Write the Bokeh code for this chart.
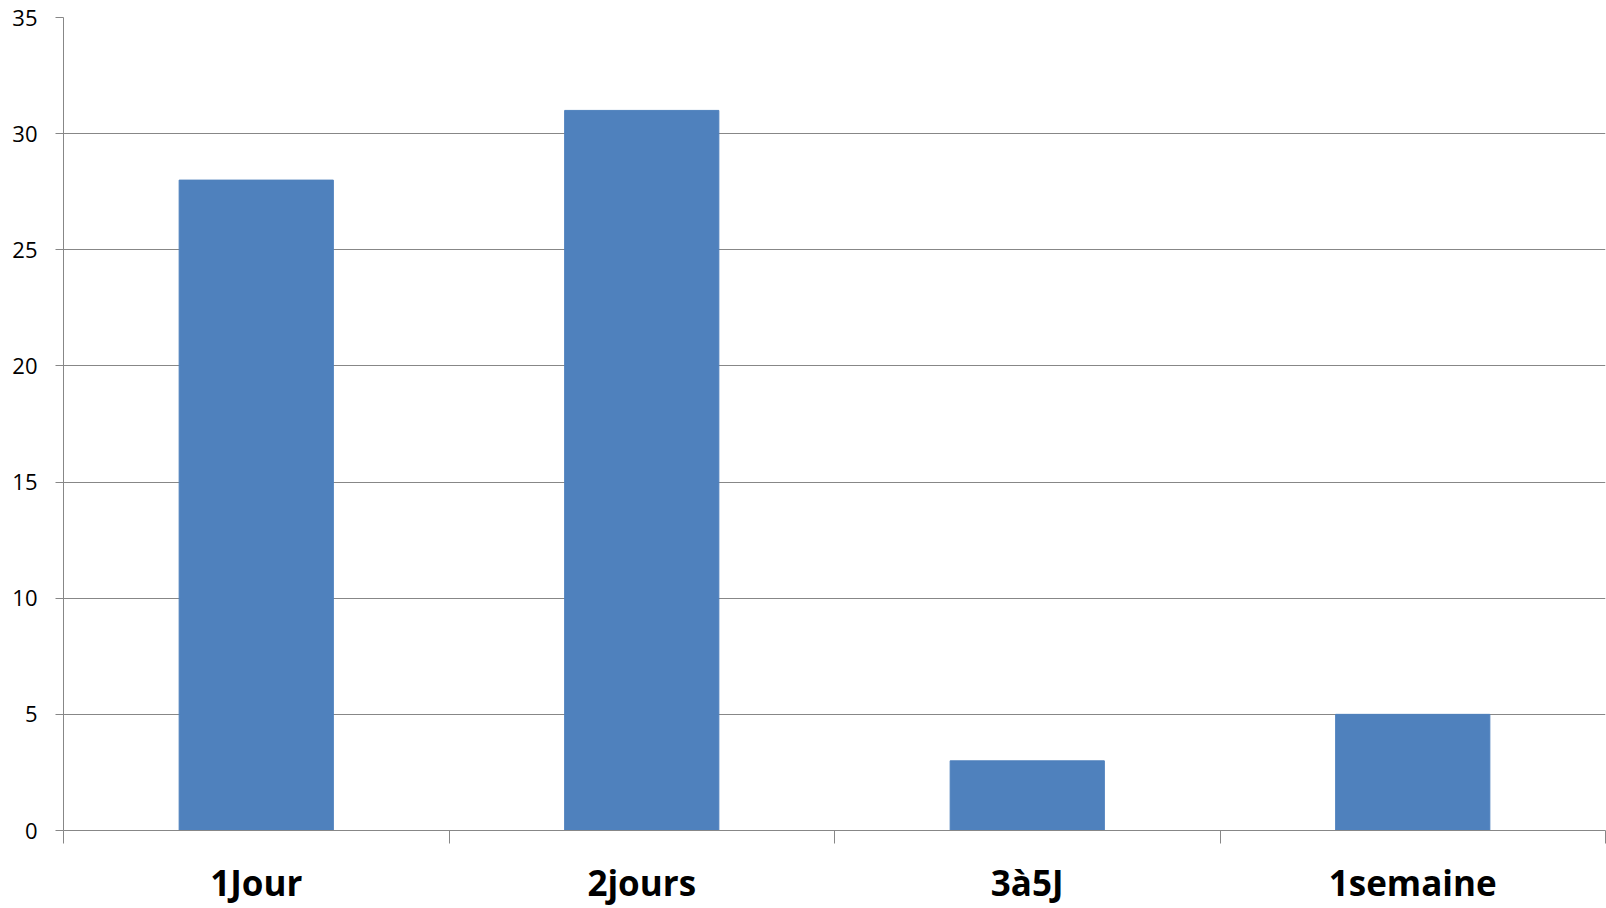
from bokeh.plotting import figure
from bokeh.models import FixedTicker, Range1d, ColumnDataSource
from bokeh.embed import file_html
from bokeh.resources import INLINE

categories = ["1Jour", "2jours", "3à5J", "1semaine"]
values = [28, 31, 3, 5]
y_ticks = [0, 5, 10, 15, 20, 25, 30, 35]

n = len(categories)
positions = list(range(n))
bounds = [i - 0.5 for i in range(n + 1)]

src = ColumnDataSource(dict(x=positions, top=values, cat=categories))

GRAY = "#878787"
BAR = "#4F81BD"

p = figure(width=1606, height=908,
           x_range=Range1d(-0.5, n - 0.5), y_range=Range1d(0, 35),
           output_backend="svg", toolbar_location=None,
           min_border_left=63, min_border_right=1,
           min_border_top=17, min_border_bottom=78)
p.outline_line_color = None
p.background_fill_color = "white"
p.border_fill_color = "white"

p.vbar(x="x", top="top", width=0.4, source=src, fill_color=BAR, line_color=BAR)

p.xgrid.visible = False
p.ygrid.grid_line_color = GRAY
p.ygrid.grid_line_width = 1
p.ygrid.ticker = FixedTicker(ticks=y_ticks)

ya = p.yaxis[0]
ya.ticker = FixedTicker(ticks=y_ticks)
ya.axis_line_color = GRAY
ya.major_tick_line_color = GRAY
ya.major_tick_in = 0
ya.major_tick_out = 8
ya.minor_tick_line_color = None
ya.major_label_standoff = 18
ya.major_label_text_font = "Open Sans"
ya.major_label_text_font_size = "22px"
ya.major_label_text_color = "black"

xa = p.xaxis[0]
xa.ticker = FixedTicker(ticks=positions, minor_ticks=bounds)
xa.axis_line_color = GRAY
xa.major_tick_line_color = None
xa.major_tick_in = 0
xa.major_tick_out = 0
xa.minor_tick_line_color = GRAY
xa.minor_tick_in = 0
xa.minor_tick_out = 13
xa.major_label_overrides = {i: c for i, c in zip(positions, categories)}
xa.major_label_standoff = 15
xa.major_label_text_font = "Open Sans"
xa.major_label_text_font_style = "bold"
xa.major_label_text_font_size = "35px"
xa.major_label_text_color = "black"

open("out.html", "w").write(file_html(p, INLINE))
